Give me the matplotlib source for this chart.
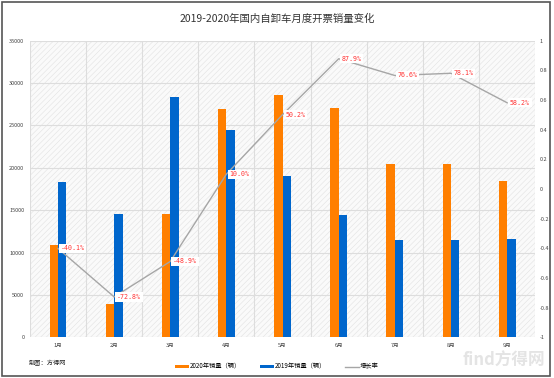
import matplotlib.pyplot as plt
from matplotlib.patches import Rectangle
import numpy as np

plt.rcParams['font.family'] = ['Noto Sans CJK SC', 'DejaVu Sans']
plt.rcParams['hatch.linewidth'] = 0.4
plt.rcParams['hatch.color'] = '#e2e2e2'

months = ['1月', '2月', '3月', '4月', '5月', '6月', '7月', '8月', '9月']
sales_2020 = [10900, 3900, 14500, 27000, 28600, 27100, 20400, 20500, 18400]
sales_2019 = [18300, 14500, 28400, 24500, 19000, 14400, 11500, 11500, 11600]
growth = [-0.401, -0.728, -0.489, 0.100, 0.502, 0.879, 0.766, 0.781, 0.582]
growth_labels = ['-40.1%', '-72.8%', '-48.9%', '10.0%', '50.2%', '87.9%', '76.6%', '78.1%', '58.2%']

fig = plt.figure(figsize=(5.54, 3.78), dpi=100)
fig.patch.set_facecolor('white')
fig.patches.append(Rectangle((0.004, 0.005), 0.988, 0.99, transform=fig.transFigure,
                             fill=False, edgecolor='#555555', linewidth=1.2))
ax = fig.add_axes([0.054, 0.108, 0.912, 0.784])
ax2 = ax.twinx()

ax.add_patch(Rectangle((0, 0), 1, 1, transform=ax.transAxes, facecolor='#fafafa',
                       hatch='//////', edgecolor='#e2e2e2', linewidth=0, zorder=0))

x = np.arange(len(months))
w = 0.15
ax.bar(x - w / 2, sales_2020, width=w, color='#ff7f00', zorder=3, label='2020年销量（辆）')
ax.bar(x + w / 2, sales_2019, width=w, color='#0066cc', zorder=3, label='2019年销量（辆）')

ax.set_xlim(-0.5, len(months) - 0.5)
ax.set_ylim(0, 35000)
ax.set_yticks(range(0, 35001, 5000))
ax.set_xticks(x)
ax.set_xticklabels(months)
ax.set_xticks(np.arange(-0.5, len(months), 1), minor=True)
ax.grid(axis='y', color='#dddddd', linewidth=0.8, zorder=1)
ax.grid(axis='x', which='minor', color='#dddddd', linewidth=0.8, zorder=1)
ax.tick_params(axis='both', which='both', length=0, labelsize=4, colors='#444444', pad=4)
for s in ax.spines.values():
    s.set_visible(False)

ax2.plot(x, growth, color='#a6a6a6', linewidth=1.0, zorder=4, label='增长率')
ax2.set_ylim(-1, 1)
ax2.set_yticks(np.round(np.arange(-1, 1.01, 0.2), 1))
ax2.set_yticklabels(['-1', '-0.8', '-0.6', '-0.4', '-0.2', '0', '0.2', '0.4', '0.6', '0.8', '1'])
ax2.tick_params(axis='y', length=0, labelsize=4, colors='#444444', pad=3)
for s in ax2.spines.values():
    s.set_visible(False)

for xi, g, lab in zip(x, growth, growth_labels):
    ax2.annotate(lab, (xi, g), xytext=(2, 0), textcoords='offset points', ha='left', va='center',
                 fontsize=4.8, color='#ff3333', family='DejaVu Sans Mono', zorder=5,
                 bbox=dict(boxstyle='square,pad=0.25', facecolor='white', edgecolor='none'))

fig.text(0.5, 0.95, '2019-2020年国内自卸车月度开票销量变化', ha='center', va='center',
         fontsize=7.5, color='#333333')
fig.text(0.052, 0.04, '制图：方得网', ha='left', va='center', fontsize=4.5, color='#222222')

h1, l1 = ax.get_legend_handles_labels()
h2, l2 = ax2.get_legend_handles_labels()
fig.legend(h1 + h2, l1 + l2, loc='center', bbox_to_anchor=(0.5, 0.03), ncol=3, frameon=False,
           fontsize=4.5, handlelength=2.2, handleheight=0.4, columnspacing=3, handletextpad=0.2)

fig.text(0.91, 0.045, 'find方得网', ha='center', va='center', fontsize=12, color='#e4e4e4',
         fontweight='bold')

fig.savefig('out.png', dpi=100)
